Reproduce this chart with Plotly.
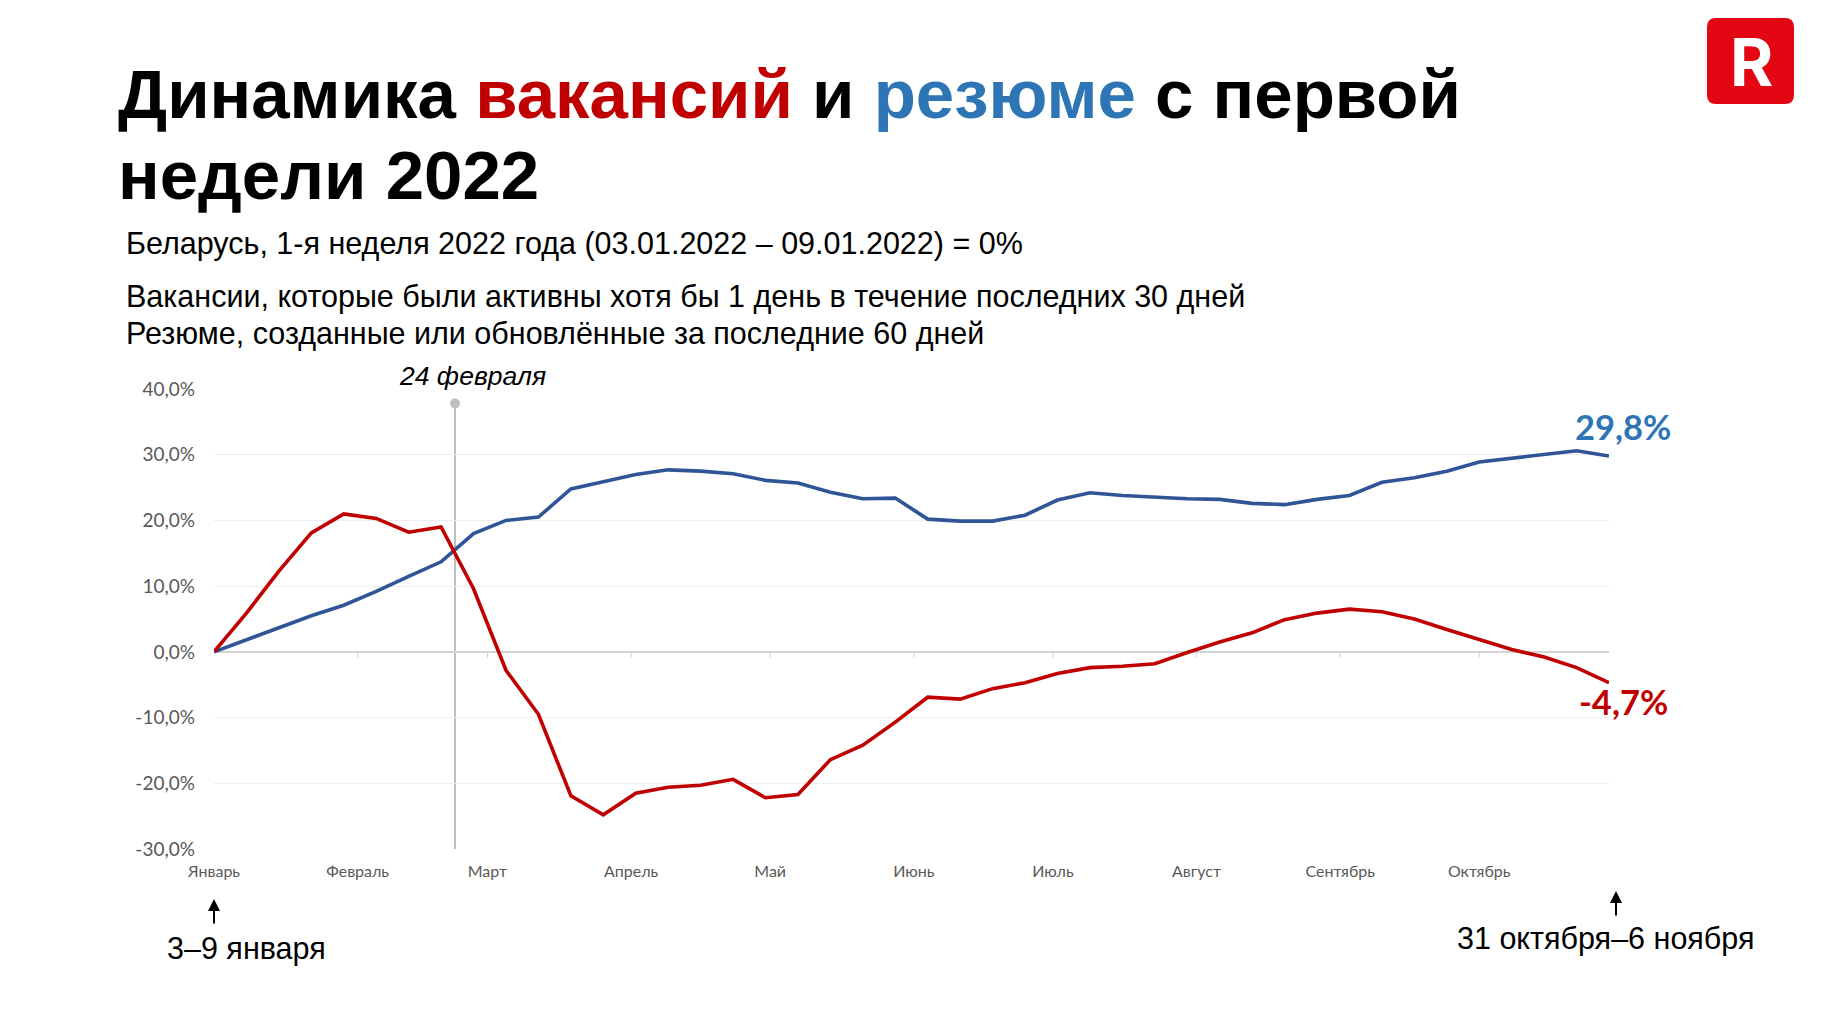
import plotly.graph_objects as go

# ---------------- data ----------------
weeks = [
    "2022-01-03", "2022-01-10", "2022-01-17", "2022-01-24", "2022-01-31",
    "2022-02-07", "2022-02-14", "2022-02-21", "2022-02-28", "2022-03-07",
    "2022-03-14", "2022-03-21", "2022-03-28", "2022-04-04", "2022-04-11",
    "2022-04-18", "2022-04-25", "2022-05-02", "2022-05-09", "2022-05-16",
    "2022-05-23", "2022-05-30", "2022-06-06", "2022-06-13", "2022-06-20",
    "2022-06-27", "2022-07-04", "2022-07-11", "2022-07-18", "2022-07-25",
    "2022-08-01", "2022-08-08", "2022-08-15", "2022-08-22", "2022-08-29",
    "2022-09-05", "2022-09-12", "2022-09-19", "2022-09-26", "2022-10-03",
    "2022-10-10", "2022-10-17", "2022-10-24", "2022-10-31",
]

vacancies = [
    0.0, 5.9, 12.3, 18.1, 21.0, 20.3, 18.2, 19.0, 9.6, -2.8,
    -9.5, -21.9, -24.8, -21.5, -20.6, -20.3, -19.4, -22.2, -21.7, -16.4,
    -14.2, -10.7, -6.9, -7.2, -5.6, -4.7, -3.3, -2.4, -2.2, -1.8,
    -0.1, 1.5, 2.9, 4.9, 5.9, 6.5, 6.1, 5.0, 3.4, 1.9,
    0.35, -0.8, -2.4, -4.7,
]

resumes = [
    0.0, 1.8, 3.7, 5.5, 7.1, 9.2, 11.5, 13.7, 18.0, 20.0,
    20.5, 24.8, 25.9, 27.0, 27.7, 27.5, 27.1, 26.1, 25.7, 24.3,
    23.3, 23.4, 20.2, 19.9, 19.9, 20.8, 23.1, 24.2, 23.8, 23.5,
    23.3, 23.2, 22.6, 22.4, 23.2, 23.8, 25.8, 26.5, 27.5, 28.9,
    29.5, 30.0, 30.6, 29.8,
]

month_ticks = [
    "2022-01-03", "2022-02-03", "2022-03-03", "2022-04-03", "2022-05-03",
    "2022-06-03", "2022-07-03", "2022-08-03", "2022-09-03", "2022-10-03",
]
month_labels = [
    "Январь", "Февраль", "Март", "Апрель", "Май",
    "Июнь", "Июль", "Август", "Сентябрь", "Октябрь",
]

y_ticks = [-30, -20, -10, 0, 10, 20, 30, 40]
y_labels = [f"{v:.1f}%".replace(".", ",") for v in y_ticks]

event_date = "2022-02-24"
event_label = "24 февраля"
event_top = 37.8

start_label = "3–9 января"
end_label = "31 октября–6 ноября"

title_line1 = ("Динамика <span style='color:#C00000'>вакансий</span> и "
               "<span style='color:#2E75B6'>резюме</span> с первой")
title_line2 = "недели 2022"
sub1 = "Беларусь, 1-я неделя 2022 года (03.01.2022 – 09.01.2022) = 0%"
sub2 = "Вакансии, которые были активны хотя бы 1 день в течение последних 30 дней"
sub3 = "Резюме, созданные или обновлённые за последние 60 дней"

# ---------------- layout helpers ----------------
FW, FH = 1831, 1019
L, R, T, B = 214, 222, 389, 170
W = FW - L - R
H = FH - T - B


def px(x):
    return (x - L) / W


def py(y):
    return (FH - B - y) / H


RED = "#C00000"
BLUE_LINE = "#2F5597"
BLUE_TXT = "#2E75B6"
AX_FONT = "Lato, 'Open Sans', sans-serif"
TXT_FONT = "'Liberation Sans', Arial, sans-serif"

fig = go.Figure()

fig.add_trace(go.Scatter(
    x=weeks, y=resumes, mode="lines", name="Резюме",
    line=dict(color=BLUE_LINE, width=3.6), hoverinfo="skip",
))
fig.add_trace(go.Scatter(
    x=weeks, y=vacancies, mode="lines", name="Вакансии",
    line=dict(color=RED, width=3.6), hoverinfo="skip",
))
# event marker dot
fig.add_trace(go.Scatter(
    x=[event_date], y=[event_top], mode="markers",
    marker=dict(color="#BFBFBF", size=10), hoverinfo="skip", showlegend=False,
))

shapes = []
# event vertical line
shapes.append(dict(type="line", xref="x", yref="y", x0=event_date, x1=event_date,
                   y0=-30, y1=event_top, line=dict(color="#BFBFBF", width=2), layer="below"))
# small tick marks on the zero line
for d in month_ticks[1:]:
    shapes.append(dict(type="line", xref="x", yref="y", x0=d, x1=d,
                       ysizemode="pixel", yanchor=0, y0=0, y1=-6,
                       line=dict(color="#D0D0D0", width=1), layer="below"))

# logo (rounded square)
x0, x1, y0, y1, r = 1707, 1794, 18, 104, 9
path = (f"M {px(x0 + r)},{py(y0)} L {px(x1 - r)},{py(y0)} Q {px(x1)},{py(y0)} {px(x1)},{py(y0 + r)} "
        f"L {px(x1)},{py(y1 - r)} Q {px(x1)},{py(y1)} {px(x1 - r)},{py(y1)} "
        f"L {px(x0 + r)},{py(y1)} Q {px(x0)},{py(y1)} {px(x0)},{py(y1 - r)} "
        f"L {px(x0)},{py(y0 + r)} Q {px(x0)},{py(y0)} {px(x0 + r)},{py(y0)} Z")
shapes.append(dict(type="path", xref="paper", yref="paper", path=path,
                   fillcolor="#E30613", line=dict(width=0)))

annotations = []


def text_ann(txt, x, y, size, color="#000000", family=TXT_FONT, xanchor="left",
             yanchor="middle", **kw):
    annotations.append(dict(text=txt, x=px(x), y=py(y), xref="paper", yref="paper",
                            showarrow=False, xanchor=xanchor, yanchor=yanchor,
                            font=dict(size=size, color=color, family=family), **kw))


text_ann(f"<b>{title_line1}</b>", 116, 94, 69)
text_ann(f"<b>{title_line2}</b>", 116, 175, 69)
text_ann(sub1, 124, 244, 30.5)
text_ann(sub2, 124, 296, 30.5)
text_ann(sub3, 124, 333, 30.5)

text_ann(f"<i>{event_label}</i>", 472, 376, 26.5, xanchor="center")
text_ann(start_label, 246, 948, 30.5, xanchor="center")
text_ann(end_label, 1605, 938, 30.5, xanchor="center")

# logo letter
text_ann("<b>R</b>", 1751, 62, 66, color="#FFFFFF", family="Inter, Roboto, sans-serif",
         xanchor="center")

# arrows
for xa, ytip, ytail in [(214, 899, 925), (1616, 891, 917)]:
    annotations.append(dict(x=px(xa), y=py(ytip), ax=0, ay=ytail - ytip,
                            xref="paper", yref="paper", axref="pixel", ayref="pixel",
                            text="", showarrow=True, arrowhead=2, arrowsize=1.2,
                            arrowwidth=2, arrowcolor="#000000"))

# end-value labels
fmt = lambda v: f"{v:.1f}%".replace(".", ",")
annotations.append(dict(x=weeks[-1], y=resumes[-1], xref="x", yref="y",
                        text=f"<b>{fmt(resumes[-1])}</b>", showarrow=False,
                        xanchor="center", yanchor="middle", xshift=14, yshift=30,
                        font=dict(size=34.5, color=BLUE_TXT, family=AX_FONT)))
annotations.append(dict(x=weeks[-1], y=vacancies[-1], xref="x", yref="y",
                        text=f"<b>{fmt(vacancies[-1])}</b>", showarrow=False,
                        xanchor="center", yanchor="middle", xshift=14, yshift=-19,
                        font=dict(size=34.5, color=RED, family=AX_FONT)))

fig.update_layout(
    width=FW, height=FH,
    margin=dict(l=L, r=R, t=T, b=B, pad=0),
    paper_bgcolor="#FFFFFF", plot_bgcolor="#FFFFFF",
    showlegend=False,
    shapes=shapes, annotations=annotations,
    xaxis=dict(
        type="date", range=[weeks[0], weeks[-1]],
        tickmode="array", tickvals=month_ticks, ticktext=month_labels,
        showgrid=False, zeroline=False, showline=False, ticks="",
        tickfont=dict(family=AX_FONT, size=16, color="#595959"),
        ticklabelstandoff=11,
    ),
    yaxis=dict(
        range=[-30, 40], tickmode="array", tickvals=y_ticks, ticktext=y_labels,
        showgrid=True, gridcolor="#EDEDED", gridwidth=1,
        zeroline=True, zerolinecolor="#D4D4D4", zerolinewidth=1.5,
        showline=False, ticks="",
        tickfont=dict(family=AX_FONT, size=19, color="#595959"),
        ticklabelstandoff=18,
    ),
)

fig.write_html("out.html")
